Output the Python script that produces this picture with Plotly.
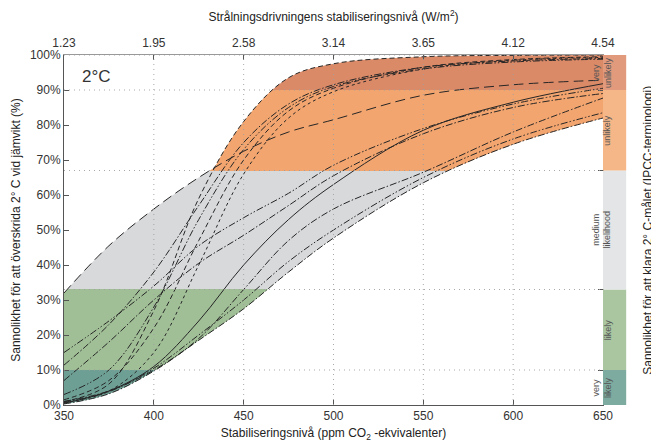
import plotly.graph_objects as go

# ---------------- data ----------------
PPM = [350, 375, 400, 425, 450, 475, 500, 550, 600, 650]

# envelope members
UPPER_LONGDASH = [32, 45.5, 56, 65, 72.5, 78, 81.5, 88.5, 91.5, 92.8]
UPPER_STEEP = [1, 6, 27, 59, 81, 93.5, 97.5, 99.5, 99.9, 100]
LOWER_BOUND = [0.3, 3.2, 9.7, 18.5, 27.5, 38, 47.7, 63.5, 74.5, 82]

# steep group
STEEP_DASHDOT = [11.4, 23, 38, 57, 75, 86, 91.5, 96.5, 98.3, 99]
STEEP_DASH = [1.5, 7, 22, 47, 70, 84, 90.5, 96.5, 98.7, 99.5]
STEEP_DASHDOTDOT = [3, 10, 28, 53, 73, 85, 91, 96, 98, 98.8]
STEEP_SHORTDASH = [0.7, 4, 15, 40, 66, 82, 89.5, 96, 98.5, 99.3]

# gradual group
GRAD_DDOT_UPPER = [15, 24, 34, 45.5, 53.5, 60.5, 68.5, 79, 86, 90.5]
GRAD_DASHDOT = [7, 18, 30, 40.5, 48.5, 57, 65.5, 77.5, 85, 89]
GRAD_SOLID = [0.5, 4, 11, 24, 40, 53, 63, 78.5, 86.5, 91.8]
GRAD_DASHDOT_LOW = [1, 4, 10, 19, 33, 47, 56, 66.5, 78, 87.7]
GRAD_DDOT_LOW = [0.8, 3.8, 10.5, 20, 30, 41, 50, 65, 76, 83.5]

PPM_TICKS = [350, 400, 450, 500, 550, 600, 650]
FORCING_TICKS = ["1.23", "1.95", "2.58", "3.14", "3.65", "4.12", "4.54"]
PCT_TICKS = [0, 10, 20, 30, 40, 50, 60, 70, 80, 90, 100]

BAND_EDGES = [0, 10, 33, 67, 90, 100]
BAND_LABELS = ["very<br>likely", "likely", "medium<br>likelihood", "unlikely", "very<br>unlikely"]
BAND_FILL = ["#6d9f94", "#a1bf97", "#d8d9db", "#f2a56f", "#db8a68"]
BAND_STRIP = ["#7dab9f", "#a9c6a0", "#e4e5e7", "#f6b788", "#e29a7d"]

# ---------------- styles ----------------
LINE_COLOR = "#262626"
GRID_COLOR = "rgba(160,160,160,0.9)"
FONT = "Liberation Sans, Arial, sans-serif"
DASH = {
    "solid": "solid",
    "dash": "5px,3px",
    "shortdash": "3px,3px",
    "longdash": "10px,5px",
    "dashdot": "7px,2px,1.5px,2px",
    "dashdotdot": "7px,2px,1.5px,2px,1.5px,2px",
}

colorscale = []
for i, c in enumerate(BAND_FILL):
    colorscale.append([BAND_EDGES[i] / 100, c])
    colorscale.append([BAND_EDGES[i + 1] / 100, c])
gradient = dict(type="vertical", colorscale=colorscale,
                start=BAND_EDGES[0], stop=BAND_EDGES[-1])

fig = go.Figure()

# shaded region between the envelope curves (union of two fills)
for upper in (UPPER_LONGDASH, UPPER_STEEP):
    fig.add_trace(go.Scatter(x=PPM, y=LOWER_BOUND, mode="lines",
                             line=dict(width=0, shape="spline"),
                             hoverinfo="skip", showlegend=False))
    fig.add_trace(go.Scatter(x=PPM, y=upper, mode="lines", fill="tonexty",
                             fillgradient=gradient,
                             line=dict(width=0, shape="spline"),
                             hoverinfo="skip", showlegend=False))

curves = [
    (UPPER_LONGDASH, "longdash"),
    (UPPER_STEEP, "dash"),
    (LOWER_BOUND, "dashdot"),
    (STEEP_DASHDOT, "dashdot"),
    (STEEP_DASH, "dash"),
    (STEEP_DASHDOTDOT, "dashdotdot"),
    (STEEP_SHORTDASH, "shortdash"),
    (GRAD_DDOT_UPPER, "dashdotdot"),
    (GRAD_DASHDOT, "dashdot"),
    (GRAD_SOLID, "solid"),
    (GRAD_DASHDOT_LOW, "dashdot"),
    (GRAD_DDOT_LOW, "dashdotdot"),
]
for vals, d in curves:
    fig.add_trace(go.Scatter(x=PPM, y=vals, mode="lines",
                             line=dict(color=LINE_COLOR, width=1, dash=DASH[d], shape="spline"),
                             hoverinfo="skip", showlegend=False))

# invisible trace to activate the secondary (top / right) axes
fig.add_trace(go.Scatter(x=[PPM_TICKS[0], PPM_TICKS[-1]], y=[BAND_EDGES[0], BAND_EDGES[-1]],
                         xaxis="x2", yaxis="y2", mode="markers",
                         marker=dict(opacity=0), hoverinfo="skip", showlegend=False))

shapes = []
# gridlines (dotted, above the fills)
for v in PPM_TICKS[1:-1]:
    shapes.append(dict(type="line", xref="x", yref="paper", x0=v, x1=v, y0=0, y1=1,
                       line=dict(color=GRID_COLOR, width=1, dash="1px,4px"), layer="above"))
for v in BAND_EDGES[1:-1] + [BAND_EDGES[-1]]:
    shapes.append(dict(type="line", xref="paper", yref="y", x0=0, x1=1, y0=v, y1=v,
                       line=dict(color=GRID_COLOR, width=1, dash="1px,4px"), layer="above"))
# IPCC strip at the right
annotations = []
for i, lab in enumerate(BAND_LABELS):
    shapes.append(dict(type="rect", xref="paper", yref="y", x0=1.0, x1=1.043,
                       y0=BAND_EDGES[i], y1=BAND_EDGES[i + 1],
                       fillcolor=BAND_STRIP[i], line=dict(width=0), layer="above"))
    annotations.append(dict(xref="paper", yref="y", x=1.0215, y=(BAND_EDGES[i] + BAND_EDGES[i + 1]) / 2,
                            text=lab, textangle=-90, showarrow=False,
                            font=dict(size=9, color="#555", family=FONT)))

annotations.append(dict(xref="paper", yref="paper", x=0.03, y=0.94, xanchor="left", yanchor="middle",
                        text="2°C", showarrow=False, font=dict(size=17, color="#333", family=FONT)))
annotations.append(dict(xref="paper", yref="paper", x=1.083, y=0.5, xanchor="center", yanchor="middle",
                        text="Sannolikhet för att klara 2° C-målet (IPCC-terminologi)", textangle=-90,
                        showarrow=False, font=dict(size=12, color="#222", family=FONT)))

# the page body adds an 8px margin, so the figure is 8px smaller than the window
fig.update_layout(
    width=651, height=436,
    margin=dict(l=56, r=56, t=47, b=39, autoexpand=False),
    paper_bgcolor="white", plot_bgcolor="white",
    font=dict(family=FONT, size=12, color="#333"),
    showlegend=False,
    shapes=shapes, annotations=annotations,
    xaxis=dict(range=[PPM_TICKS[0], PPM_TICKS[-1]], tickvals=PPM_TICKS, automargin=False,
               ticks="inside", ticklen=5, tickcolor="#555", showgrid=False, zeroline=False,
               showline=True, linecolor="#555", linewidth=1,
               title=dict(text="Stabiliseringsnivå (ppm CO<sub>2</sub> -ekvivalenter)",
                          standoff=6, font=dict(size=12, color="#222"))),
    xaxis2=dict(range=[PPM_TICKS[0], PPM_TICKS[-1]], tickvals=PPM_TICKS, ticktext=FORCING_TICKS,
                overlaying="x", side="top", anchor="y2", automargin=False,
                ticks="inside", ticklen=5, tickcolor="#555", showgrid=False, zeroline=False,
                showline=True, linecolor="#999", linewidth=1, ticklabelstandoff=2,
                title=dict(text="Strålningsdrivningens stabiliseringsnivå (W/m<sup>2</sup>)",
                           standoff=12, font=dict(size=12, color="#222"))),
    yaxis=dict(range=[BAND_EDGES[0], BAND_EDGES[-1]], tickvals=PCT_TICKS,
               ticktext=[f"{v}%" for v in PCT_TICKS], automargin=False,
               ticks="inside", ticklen=5, tickcolor="#555", showgrid=False, zeroline=False,
               showline=True, linecolor="#555", linewidth=1,
               title=dict(text="Sannolikhet för att överskrida 2° C vid jämvikt (%)",
                          standoff=6, font=dict(size=12, color="#222"))),
    yaxis2=dict(range=[BAND_EDGES[0], BAND_EDGES[-1]], tickvals=BAND_EDGES[1:-1],
                overlaying="y", side="right", anchor="x2", automargin=False,
                ticks="inside", ticklen=5, tickcolor="#555", showticklabels=False,
                showgrid=False, zeroline=False, showline=True, linecolor="#555", linewidth=1),
)

fig.write_html("out.html")
